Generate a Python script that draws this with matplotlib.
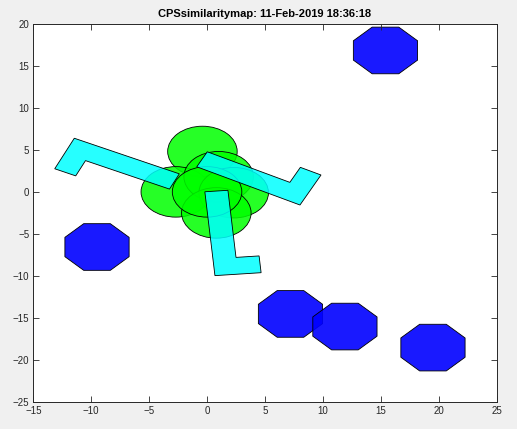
"""
CPS similarity map: polygons (octagons, circles and L-shapes) drawn MATLAB-style.
"""
import numpy as np
import matplotlib
matplotlib.use('Agg')
import matplotlib.pyplot as plt
from matplotlib.patches import Polygon, Circle

# blue octagons: centres, circumradius 3
oct_x = [15.4, -9.5, 7.2, 11.9, 19.5]
oct_y = [16.8, -6.55, -14.5, -16.0, -18.5]
oct_r = 3.0

# green circles: centres, radius 3
circ_x = [-0.4, -2.7, 1.0, 2.3, 0.8, 0.0]
circ_y = [4.8, 0.0, 1.8, -0.1, -2.5, 0.0]
circ_r = 3.0

# cyan L shapes: outer corner, rotation (deg)
l_x = [-11.46, 8.02, 0.68]
l_y = [6.37, -1.56, -9.95]
l_rot = [-115.0, 63.0, 5.0]
# L template (foot along x, arm along y)
l_shape = np.array([[0, 0], [4, 0], [4, 2], [2, 2], [2, 10], [0, 10]], dtype=float)

title = "CPSsimilaritymap: 11-Feb-2019 18:36:18"
xticks = list(range(-15, 26, 5))
yticks = list(range(-25, 21, 5))

plt.rcParams['font.family'] = ['Liberation Sans', 'DejaVu Sans']
ink = (0.15, 0.15, 0.15)

fig = plt.figure(figsize=(5.17, 4.29), dpi=100, facecolor='#f0f0f0')
ax = fig.add_axes([0.0644, 0.0622, 0.8963, 0.883])

for cx, cy in zip(circ_x, circ_y):
    ax.add_patch(Circle((cx, cy), circ_r, facecolor=(0, 1, 0), alpha=None,
                        edgecolor='black', linewidth=0.6,
                        fill=True))
    ax.patches[-1].set_facecolor((0, 1, 0, 0.85))

for ox, oy, rot in zip(l_x, l_y, l_rot):
    t = np.deg2rad(rot)
    R = np.array([[np.cos(t), -np.sin(t)], [np.sin(t), np.cos(t)]])
    pts = l_shape @ R.T + [ox, oy]
    ax.add_patch(Polygon(pts, closed=True, facecolor=(0, 1, 1, 0.85),
                         edgecolor='black', linewidth=0.6))

ang = np.deg2rad(22.5 + 45 * np.arange(8))
for ox, oy in zip(oct_x, oct_y):
    pts = np.column_stack([ox + oct_r * np.cos(ang), oy + oct_r * np.sin(ang)])
    ax.add_patch(Polygon(pts, closed=True, facecolor=(0, 0, 1, 0.9),
                         edgecolor='black', linewidth=0.6))

ax.set_xlim(-15, 25)
ax.set_ylim(-25, 20)
ax.set_xticks(xticks)
ax.set_yticks(yticks)
ax.tick_params(direction='in', length=4, width=0.6, colors=ink, labelsize=7,
               top=True, right=True, pad=3)
for s in ax.spines.values():
    s.set_color(ink)
    s.set_linewidth(0.7)
ax.set_title(title, fontsize=8, fontweight='bold', color='black', pad=5)

fig.savefig('out.png', dpi=100, facecolor=fig.get_facecolor())
